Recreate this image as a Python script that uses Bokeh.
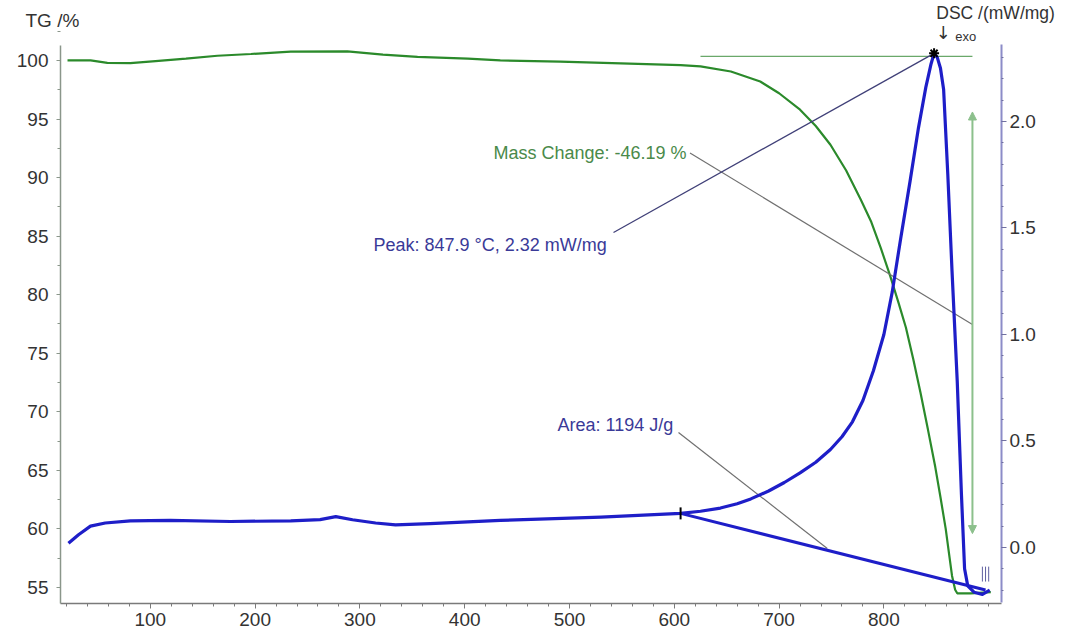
import math
from bokeh.plotting import figure
from bokeh.models import (Range1d, LinearAxis, Label, Arrow, NormalHead,
                          FixedTicker, PrintfTickFormatter)
from bokeh.embed import file_html
from bokeh.resources import INLINE

# ---------------- data ----------------
temp_tg = [21, 43, 59, 81, 105, 134, 164, 196, 234, 288, 322, 355, 403, 434, 491,
           549, 606, 625, 654, 682, 700, 720, 735, 749, 764, 778, 788, 797, 806, 814,
           821, 828, 835, 842, 849, 854, 859, 862, 865, 868, 870, 883, 902]
tg = [100.0, 100.0, 99.8, 99.78, 99.95, 100.15, 100.4, 100.55, 100.75, 100.77, 100.5,
      100.3, 100.15, 100.0, 99.9, 99.75, 99.6, 99.5, 99.06, 98.2, 97.2, 95.8, 94.4,
      92.8, 90.6, 88.1, 86.2, 84.0, 81.6, 79.3, 77.2, 74.5, 71.6, 68.5, 65.3, 62.7,
      60.0, 58.0, 56.0, 54.8, 54.5, 54.5, 54.6]

temp_dsc = [21.9, 31.5, 42.9, 57, 81, 119, 176.5, 234, 262, 277, 293, 315, 334, 367,
            434, 530, 606, 625, 644, 660, 673, 690, 705, 720, 735, 749, 760, 770, 780,
            790, 800, 808, 816, 825, 833, 840, 845, 847.9, 851, 854, 857, 861, 865,
            870, 874, 877, 880, 886, 894, 901]
dsc = [0.02, 0.06, 0.10, 0.115, 0.125, 0.127, 0.122, 0.125, 0.131, 0.145, 0.13, 0.115,
       0.106, 0.112, 0.127, 0.142, 0.16, 0.17, 0.185, 0.205, 0.228, 0.265, 0.305, 0.35,
       0.40, 0.46, 0.52, 0.59, 0.69, 0.83, 1.00, 1.20, 1.45, 1.72, 1.97, 2.16, 2.27,
       2.32, 2.30, 2.25, 2.15, 1.75, 1.30, 0.78, 0.25, -0.10, -0.18, -0.21, -0.22,
       -0.20]

x_ticks = [100, 200, 300, 400, 500, 600, 700, 800]
tg_ticks = [55, 60, 65, 70, 75, 80, 85, 90, 95, 100]
dsc_ticks = [0.0, 0.5, 1.0, 1.5, 2.0]

peak_temp = 847.9
peak_dsc = 2.32
onset_temp = 606
onset_dsc = 0.16
base_end_temp = 897
base_end_dsc = -0.20
mass_change = -46.19
area = 1194

# axis extents (data units)
X_LO, X_HI = 14.3, 912.2
TG_LO, TG_HI = 53.63, 101.28
DSC_LO, DSC_HI = -0.258, 2.36

# ---------------- figure ----------------
# the frame covers the whole canvas; axes are pinned with fixed_location
p = figure(width=1065, height=636, output_backend="svg", toolbar_location=None,
           title=None,
           x_range=Range1d(-42.95, 973.3), y_range=Range1d(50.81, 105.12),
           min_border_left=0, min_border_right=0, min_border_top=0,
           min_border_bottom=0)
p.outline_line_color = None
p.grid.visible = False
p.background_fill_color = "white"
p.border_fill_color = "white"
p.extra_y_ranges = {"dsc": Range1d(-0.418, 2.568)}

FONT = "Liberation Sans"
LBL = "#333333"

xa = p.xaxis[0]
xa.fixed_location = TG_LO
xa.bounds = (X_LO, X_HI)
xa.ticker = FixedTicker(ticks=x_ticks, minor_ticks=list(range(20, 920, 20)))
xa.axis_line_color = "#7a7a7a"
xa.axis_line_width = 1.5
xa.major_tick_line_color = "#7a7a7a"
xa.minor_tick_line_color = "#7a7a7a"
xa.major_tick_out = 5
xa.major_tick_in = 0
xa.minor_tick_out = 3
xa.minor_tick_in = 0
xa.major_label_standoff = 5
xa.major_label_text_font = FONT
xa.major_label_text_font_size = "19px"
xa.major_label_text_color = LBL

ya = p.yaxis[0]
ya.fixed_location = X_LO
ya.bounds = (TG_LO, TG_HI)
ya.ticker = FixedTicker(ticks=tg_ticks, minor_ticks=[v + 2.5 for v in tg_ticks])
ya.axis_line_color = "#8a968a"
ya.axis_line_width = 1.5
ya.major_tick_line_color = "#8a968a"
ya.minor_tick_line_color = "#8a968a"
ya.major_tick_out = 4
ya.major_tick_in = 0
ya.minor_tick_out = 3
ya.minor_tick_in = 0
ya.major_label_standoff = 8
ya.major_label_text_font = FONT
ya.major_label_text_font_size = "19px"
ya.major_label_text_color = LBL

ra = LinearAxis(y_range_name="dsc")
ra.fixed_location = X_HI
ra.bounds = (DSC_LO, DSC_HI)
ra.ticker = FixedTicker(ticks=dsc_ticks,
                        minor_ticks=[round(-0.2 + 0.1 * i, 2) for i in range(26)])
ra.formatter = PrintfTickFormatter(format="%.1f")
ra.axis_line_color = "#8c8cc8"
ra.axis_line_width = 2
ra.major_tick_line_color = "#7070a0"
ra.minor_tick_line_color = "#7070a0"
ra.major_tick_out = 5
ra.major_tick_in = 0
ra.minor_tick_out = 2
ra.minor_tick_in = 0
ra.major_label_standoff = 3
ra.major_label_text_font = FONT
ra.major_label_text_font_size = "19px"
ra.major_label_text_color = LBL
p.add_layout(ra, "right")

# ---------------- curves ----------------
GREEN = "#2b8a2b"
BLUE = "#1e1ec8"

# reference line (initial mass level)
p.line([625, 884.5], [100.35, 100.35], line_color="#6aa86a", line_width=1.2)

p.line(temp_tg, tg, line_color=GREEN, line_width=2.2)

# mass change arrow
p.add_layout(Arrow(start=NormalHead(size=8, fill_color="#8cc08c", line_color="#8cc08c"),
                   end=NormalHead(size=8, fill_color="#8cc08c", line_color="#8cc08c"),
                   x_start=884.5, y_start=59.6, x_end=884.5, y_end=95.6,
                   line_color="#8cc08c", line_width=2))

# leader lines
p.line([615, 884.5], [92.1, 77.45], line_color="#707070", line_width=1.2)
p.line([542, peak_temp], [1.479, peak_dsc], line_color="#404078", line_width=1.3,
       y_range_name="dsc")
p.line([604, 746], [0.54, -0.005], line_color="#707070", line_width=1.2,
       y_range_name="dsc")

# DSC curve + baseline
p.line([onset_temp, base_end_temp], [onset_dsc, base_end_dsc], line_color=BLUE,
       line_width=3, y_range_name="dsc")
p.line(temp_dsc, dsc, line_color=BLUE, line_width=3.2, y_range_name="dsc",
       line_join="round")

# markers
p.scatter([peak_temp], [peak_dsc], marker="asterisk", size=10, line_color="black",
          line_width=2, y_range_name="dsc")
p.scatter([onset_temp], [onset_dsc], marker="dash", angle=math.pi / 2, size=12,
          line_color="black", line_width=2, y_range_name="dsc")

# small end marks
p.segment(x0=[894, 897, 900], y0=[-0.16, -0.16, -0.16], x1=[894, 897, 900],
          y1=[-0.09, -0.09, -0.09], line_color="#6060a0", line_width=1,
          y_range_name="dsc")

# ---------------- texts ----------------
def lab(text, x, y, color, size, rng="default", baseline="middle", align="left",
        font=FONT):
    p.add_layout(Label(x=x, y=y, text=text, text_color=color, text_font=font,
                       text_font_size=size, text_baseline=baseline, text_align=align,
                       y_range_name=rng))

lab("Mass Change: %.2f %%" % mass_change, 427.5, 92.14, "#4a8a4a", "18px")
lab("Peak: %.1f \u00b0C, %.2f mW/mg" % (peak_temp, peak_dsc), 313, 1.418, "#3a3a98",
    "18px", rng="dsc")
lab("Area: %d J/g" % area, 488.5, 0.573, "#3a3a98", "18px", rng="dsc")
lab("TG /%", -19.1, 103.42, LBL, "19px")
lab("DSC /(mW/mg)", 850, 2.507, LBL, "17.5px", rng="dsc")
lab("\u2193", 849.5, 2.42, LBL, "18px", rng="dsc", font="DejaVu Sans")
lab("exo", 868, 2.40, LBL, "13px", rng="dsc")

open("out.html", "w").write(file_html(p, INLINE))
